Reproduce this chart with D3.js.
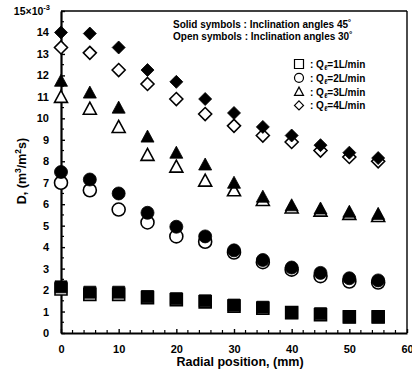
<!DOCTYPE html>
<html>
<head>
<meta charset="utf-8">
<script src="https://cdn.jsdelivr.net/npm/d3@7"></script>
<style>
  html, body { margin: 0; padding: 0; background: #fff; }
  svg { display: block; font-family: "Liberation Sans", Arial, sans-serif; }
</style>
</head>
<body>
<svg id="chart" width="412" height="380"></svg>
<script>
// Radial positions (mm)
const radial = [0, 5, 10, 15, 20, 25, 30, 35, 40, 45, 50, 55];

// Dispersion coefficient D (x10^-3 m^3/m^2 s), inclination angle 45° (solid symbols)
const q1_45 = [2.15, 1.9, 1.9, 1.7, 1.6, 1.5, 1.3, 1.2, 0.95, 0.9, 0.75, 0.75];
const q2_45 = [7.5, 7.15, 6.5, 5.6, 4.95, 4.5, 3.85, 3.4, 3.05, 2.8, 2.55, 2.45];
const q3_45 = [11.75, 11.2, 10.5, 9.15, 8.4, 7.85, 7.0, 6.35, 5.95, 5.8, 5.65, 5.55];
const q4_45 = [14.0, 13.95, 13.3, 12.25, 11.7, 10.9, 10.25, 9.6, 9.2, 8.75, 8.4, 8.15];

// Inclination angle 30° (open symbols)
const q1_30 = [2.05, 1.8, 1.8, 1.65, 1.55, 1.45, 1.25, 1.15, 0.95, 0.85, 0.75, 0.75];
const q2_30 = [7.0, 6.65, 5.75, 5.15, 4.5, 4.25, 3.75, 3.3, 2.95, 2.65, 2.4, 2.35];
const q3_30 = [11.0, 10.45, 9.6, 8.3, 7.75, 7.1, 6.65, 6.2, 5.85, 5.7, 5.55, 5.45];
const q4_30 = [13.3, 13.05, 12.25, 11.6, 10.9, 10.2, 9.65, 9.2, 8.9, 8.5, 8.2, 8.0];

// Axis ticks
const yTicks = [0, 1, 2, 3, 4, 5, 6, 7, 8, 9, 10, 11, 12, 13, 14];
const xTicks = [0, 10, 20, 30, 40, 50, 60];

// Legend rows
const legendShapes = ["square", "circle", "triangle", "diamond"];
const legendLabels = ["1L/min", "2L/min", "3L/min", "4L/min"];

const svg = d3.select("#chart");
const x = d3.scaleLinear().domain([0, 60]).range([61, 407]);
const y = d3.scaleLinear().domain([0, 15]).range([333, 11]);

// Custom symbol shapes (size = full width in px)
const shapes = {
  square: { draw(ctx, s) { const h = s / 2; ctx.moveTo(-h, -h); ctx.lineTo(h, -h); ctx.lineTo(h, h); ctx.lineTo(-h, h); ctx.closePath(); } },
  circle: { draw(ctx, s) { const r = s / 2; ctx.moveTo(r, 0); ctx.arc(0, 0, r, 0, 2 * Math.PI); } },
  triangle: { draw(ctx, s) { const h = s / 2; ctx.moveTo(0, -h); ctx.lineTo(h, h * 0.85); ctx.lineTo(-h, h * 0.85); ctx.closePath(); } },
  diamond: { draw(ctx, s) { const h = s / 2; ctx.moveTo(0, -h); ctx.lineTo(h, 0); ctx.lineTo(0, h); ctx.lineTo(-h, 0); ctx.closePath(); } }
};
const sym = (type, size) => d3.symbol().type(shapes[type]).size(size)();

// Frame (top and right)
svg.append("line").attr("x1", x(0)).attr("x2", x(60)).attr("y1", y(15)).attr("y2", y(15))
  .attr("stroke", "#000").attr("stroke-width", 1.4);
svg.append("line").attr("x1", x(60)).attr("x2", x(60)).attr("y1", y(15)).attr("y2", y(0))
  .attr("stroke", "#000").attr("stroke-width", 1.4);

// Minor ticks
const minorY = d3.range(0.5, 15, 1);
svg.append("g").selectAll("line").data(minorY).join("line")
  .attr("x1", x(0)).attr("x2", x(0) + 3).attr("y1", d => y(d)).attr("y2", d => y(d))
  .attr("stroke", "#000").attr("stroke-width", 1.2);
const minorX = d3.range(2, 60, 2).filter(d => d % 10 !== 0);
svg.append("g").selectAll("line").data(minorX).join("line")
  .attr("x1", d => x(d)).attr("x2", d => x(d)).attr("y1", y(0)).attr("y2", y(0) - 3)
  .attr("stroke", "#000").attr("stroke-width", 1.2);

// Y axis
const yAxis = svg.append("g").attr("transform", `translate(${x(0)},0)`)
  .call(d3.axisLeft(y).tickValues(yTicks.concat([15])).tickSizeInner(-4).tickSizeOuter(0)
    .tickPadding(12).tickFormat(d => d === 15 ? "" : d));
yAxis.select(".domain").attr("stroke-width", 2.2);
yAxis.selectAll(".tick line").attr("stroke-width", 1.4);
yAxis.selectAll(".tick text").attr("font-size", 11).attr("font-weight", "bold").attr("fill", "#000");

// Exponent label at the top of the y axis
const yTopLabel = svg.append("text").attr("x", 50).attr("y", y(15) + 4)
  .attr("text-anchor", "end").attr("font-size", 10.5).attr("font-weight", "bold");
yTopLabel.append("tspan").text("15×10");
yTopLabel.append("tspan").attr("dy", -5).attr("font-size", 7.5).text("-3");

// X axis
const xAxis = svg.append("g").attr("transform", `translate(0,${y(0)})`)
  .call(d3.axisBottom(x).tickValues(xTicks).tickSizeInner(-4).tickSizeOuter(0).tickPadding(12));
xAxis.select(".domain").attr("stroke-width", 2.2);
xAxis.selectAll(".tick line").attr("stroke-width", 1.4);
xAxis.selectAll(".tick text").attr("font-size", 11).attr("font-weight", "bold").attr("fill", "#000");

// Axis titles
svg.append("text").attr("x", 240).attr("y", 366).attr("text-anchor", "middle")
  .attr("font-size", 12.5).attr("font-weight", "bold").text("Radial position, (mm)");
const yl = svg.append("text").attr("transform", "translate(26,171) rotate(-90)")
  .attr("text-anchor", "middle").attr("font-size", 12.5).attr("font-weight", "bold");
yl.append("tspan").text("D, (m");
yl.append("tspan").attr("dy", -5).attr("font-size", 8.5).text("3");
yl.append("tspan").attr("dy", 5).text("/m");
yl.append("tspan").attr("dy", -5).attr("font-size", 8.5).text("2");
yl.append("tspan").attr("dy", 5).text("s)");

// Series
const series = [
  { type: "square", size: 12, open: q1_30, solid: q1_45 },
  { type: "circle", size: 13, open: q2_30, solid: q2_45 },
  { type: "triangle", size: 13, open: q3_30, solid: q3_45 },
  { type: "diamond", size: 13, open: q4_30, solid: q4_45 }
];

const marks = svg.append("g");
series.forEach(s => {
  marks.append("g").selectAll("path").data(s.open).join("path")
    .attr("d", sym(s.type, s.size))
    .attr("transform", (d, i) => `translate(${x(radial[i])},${y(d)})`)
    .attr("fill", "#fff").attr("stroke", "#000").attr("stroke-width", 1.6);
  marks.append("g").selectAll("path").data(s.solid).join("path")
    .attr("d", sym(s.type, s.size))
    .attr("transform", (d, i) => `translate(${x(radial[i])},${y(d)})`)
    .attr("fill", "#000").attr("stroke", "#000").attr("stroke-width", 0.8);
});

// Legend: inclination angle note
svg.append("text").attr("x", 173).attr("y", 28).attr("font-size", 10).attr("font-weight", "bold")
  .text("Solid symbols : Inclination angles 45˚");
svg.append("text").attr("x", 173).attr("y", 40).attr("font-size", 10).attr("font-weight", "bold")
  .text("Open symbols : Inclination angles 30˚");

// Legend: flow rates
const leg = svg.append("g");
legendShapes.forEach((t, i) => {
  const ly = 64 + i * 13.8;
  leg.append("path").attr("d", sym(t, 9)).attr("transform", `translate(299,${ly})`)
    .attr("fill", "none").attr("stroke", "#000").attr("stroke-width", 1.2);
  const tx = leg.append("text").attr("x", 310).attr("y", ly + 4)
    .attr("font-size", 10).attr("font-weight", "bold");
  tx.append("tspan").text(" :  Q");
  tx.append("tspan").attr("dy", 2).attr("font-size", 7).text("ℓ");
  tx.append("tspan").attr("dy", -2).text("=" + legendLabels[i]);
});
</script>
</body>
</html>
